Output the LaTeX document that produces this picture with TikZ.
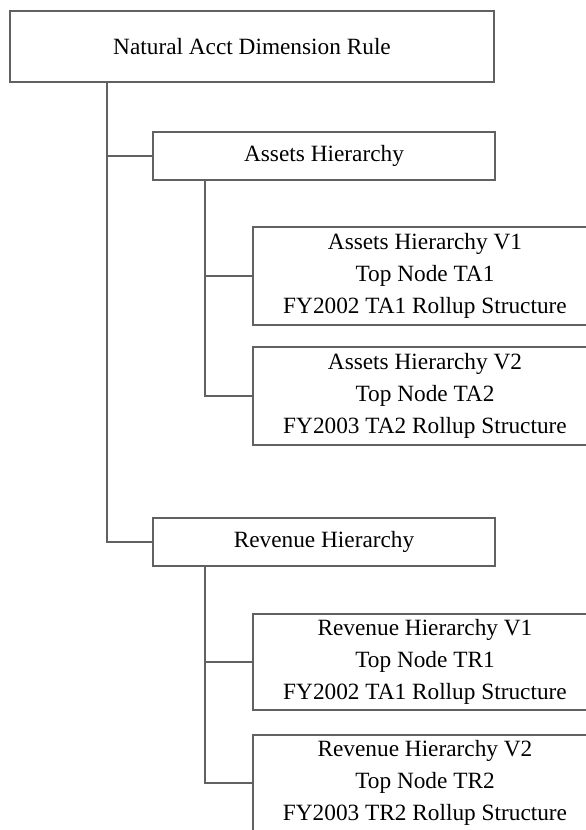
\documentclass[tikz,border=0pt]{standalone}
\usepackage{fontspec}
\setmainfont{Liberation Serif}
\begin{document}
\begin{tikzpicture}[x=1pt,y=-1pt,
  frame/.style={draw=black!62, line width=2.2pt, fill=white, align=center,
    inner sep=0pt, font=\fontsize{23.3}{32}\selectfont, text=black},
  link/.style={draw=black!62, line width=2.2pt}]
\useasboundingbox (0,0) rectangle (586,830);
\clip (0,0) rectangle (586,830);

% hierarchy boxes
\node[frame, minimum width=484pt, minimum height=71pt] (root) at (252,46.5) {Natural Acct Dimension Rule};
\node[frame, minimum width=342pt, minimum height=48pt] (assets) at (324,156) {Assets Hierarchy};
\node[frame, minimum width=344pt, minimum height=98pt] (av1) at (425,276) {Assets Hierarchy V1\\Top Node TA1\\FY2002 TA1 Rollup Structure};
\node[frame, minimum width=344pt, minimum height=98pt] (av2) at (425,396) {Assets Hierarchy V2\\Top Node TA2\\FY2003 TA2 Rollup Structure};
\node[frame, minimum width=342pt, minimum height=48pt] (rev) at (324,542) {Revenue Hierarchy};
\node[frame, minimum width=344pt, minimum height=96pt] (rv1) at (425,662) {Revenue Hierarchy V1\\Top Node TR1\\FY2002 TA1 Rollup Structure};
\node[frame, minimum width=344pt, minimum height=96pt] (rv2) at (425,783) {Revenue Hierarchy V2\\Top Node TR2\\FY2003 TR2 Rollup Structure};

% trunk points under each parent
\coordinate (t0) at (107,82);
\coordinate (t1) at (205,180);
\coordinate (t2) at (205,566);

% connectors
\draw[link] (t0) |- (rev.west);
\draw[link] (t0 |- assets.west) -- (assets.west);
\draw[link] (t1) |- (av2.west);
\draw[link] (t1 |- av1.west) -- (av1.west);
\draw[link] (t2) |- (rv2.west);
\draw[link] (t2 |- rv1.west) -- (rv1.west);
\end{tikzpicture}
\end{document}
